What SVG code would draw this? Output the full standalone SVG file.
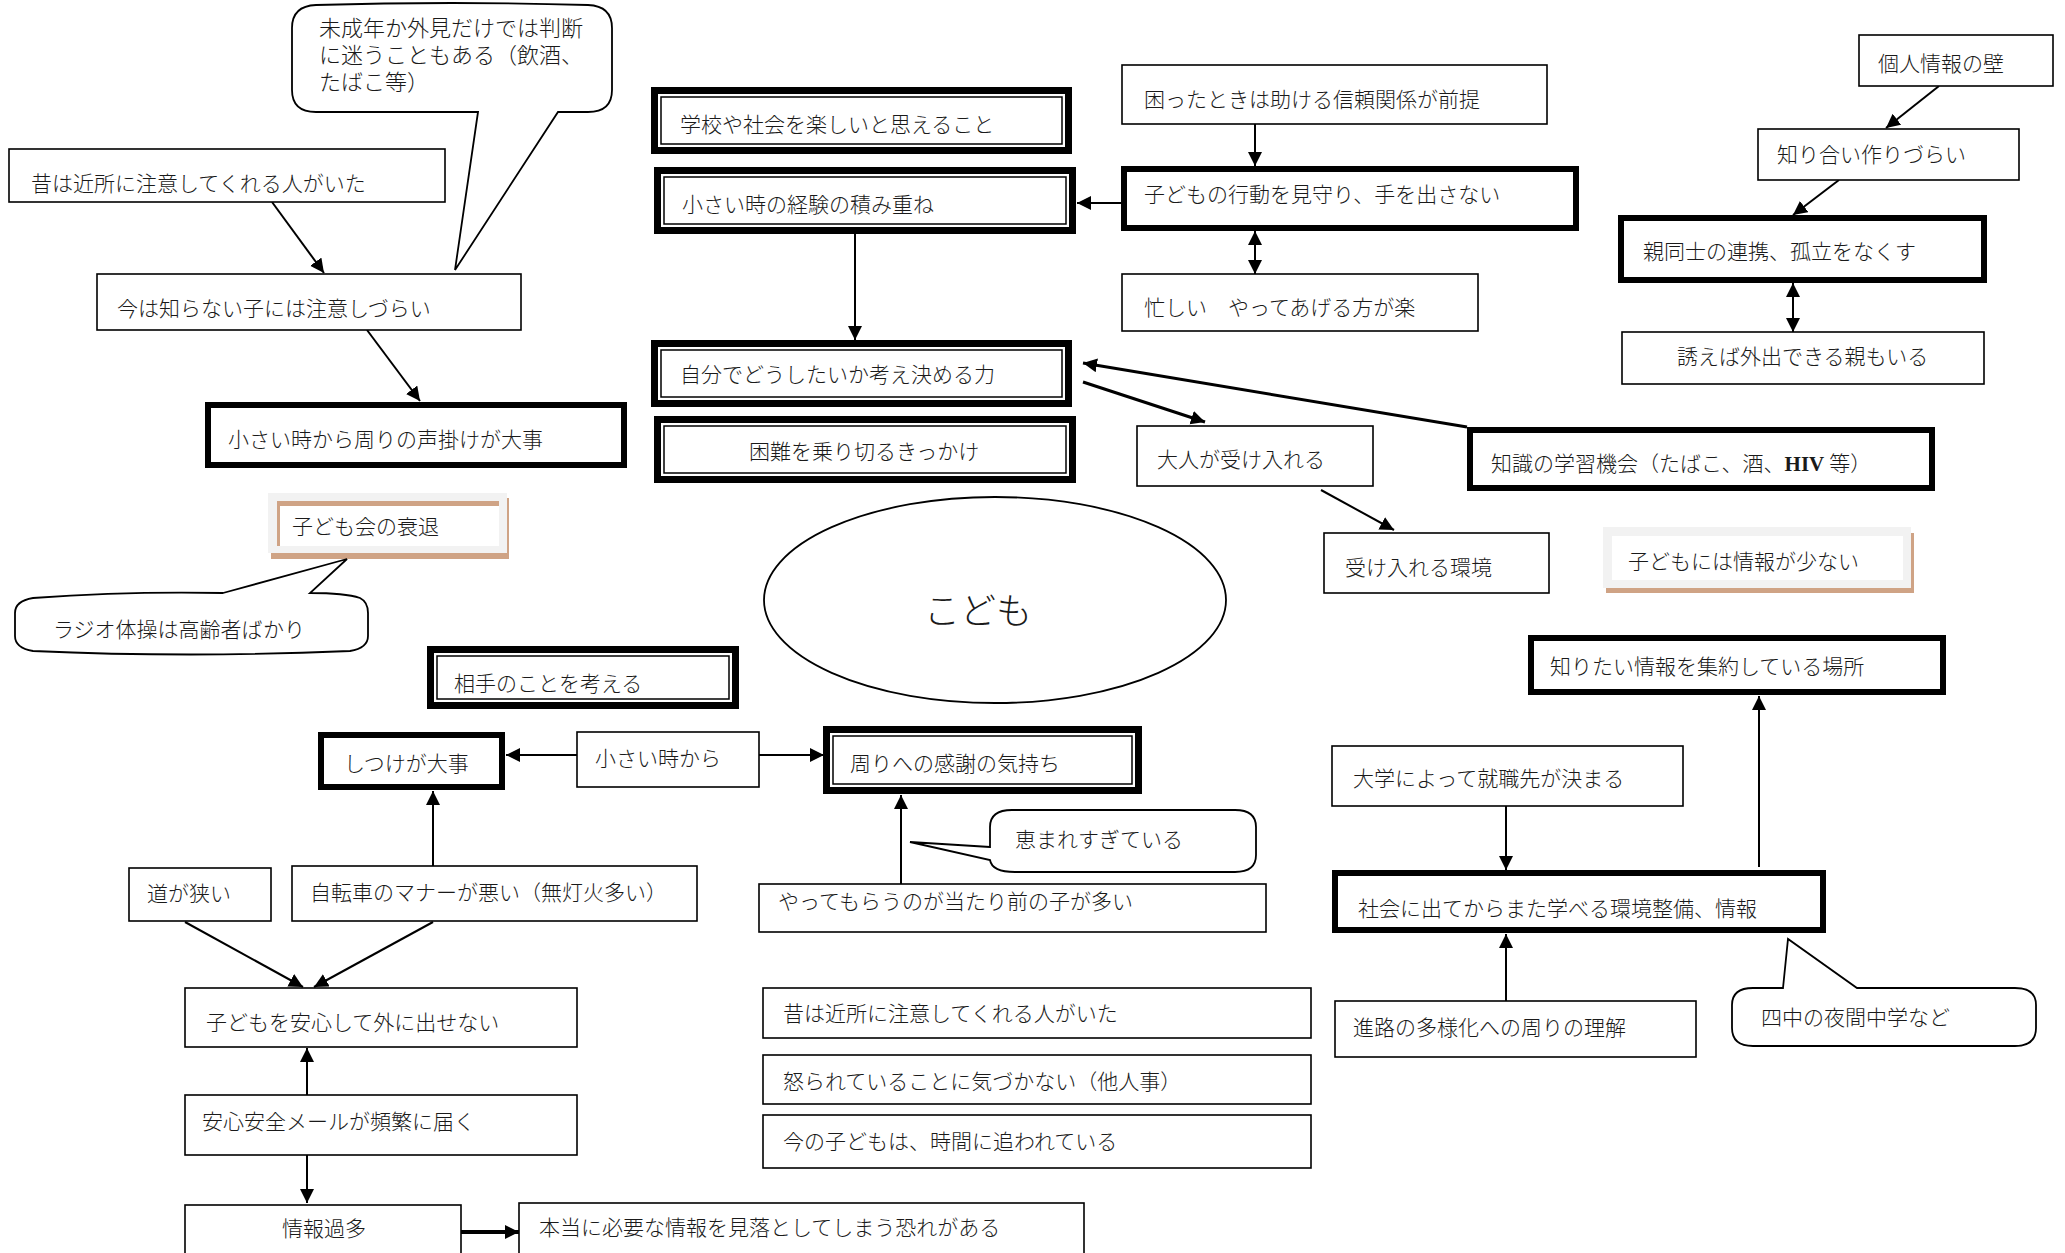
<svg xmlns="http://www.w3.org/2000/svg" width="2065" height="1253" viewBox="0 0 2065 1253">
  <style>
    .box{fill:#fff;stroke:#000;stroke-width:1.6}
    .thick{fill:#fff;stroke:#000;stroke-width:6}
    .dbo{fill:#fff;stroke:#000;stroke-width:7}
    .dbi{fill:none;stroke:#000;stroke-width:1.5}
    .bubble{fill:#fff;stroke:#000;stroke-width:1.8;stroke-linejoin:miter}
    .t{font-family:"Liberation Serif","Noto Sans CJK JP",sans-serif;font-size:21px;font-weight:300;fill:#1a1a1a}
    .big{font-size:36px}
    .c{stroke:#000;stroke-width:2;fill:none;marker-end:url(#ah)}
    .c3{stroke-width:3}
    .c4{stroke-width:4}
    .both{marker-start:url(#ah)}
    .tan{fill:#cfa385}
    .gray{fill:#f2f2f2}
  </style>
  <defs>
    <marker id="ah" markerUnits="userSpaceOnUse" markerWidth="16" markerHeight="16" refX="14" refY="7" orient="auto-start-reverse">
      <path d="M0,0 L14,7 L0,14 z" fill="#000"/>
    </marker>
  </defs>
  <rect width="2065" height="1253" fill="#fff"/>

  <!-- connectors -->
  <g id="connectors">
    <line class="c" x1="272" y1="202" x2="324" y2="273"/>
    <line class="c" x1="367" y1="330" x2="420" y2="401"/>
    <line class="c" x1="577" y1="755" x2="506" y2="755"/>
    <line class="c" x1="759" y1="755" x2="824" y2="755"/>
    <line class="c" x1="433" y1="866" x2="433" y2="791"/>
    <line class="c" x1="185" y1="922" x2="303" y2="987"/>
    <line class="c" x1="433" y1="922" x2="314" y2="987"/>
    <line class="c" x1="307" y1="1095" x2="307" y2="1048"/>
    <line class="c" x1="307" y1="1155" x2="307" y2="1203"/>
    <line class="c c4" x1="461" y1="1232" x2="519" y2="1232"/>
    <line class="c" x1="901" y1="884" x2="901" y2="795"/>
    <line class="c" x1="855" y1="234" x2="855" y2="340"/>
    <line class="c" x1="1255" y1="124" x2="1255" y2="166"/>
    <line class="c" x1="1121" y1="203" x2="1077" y2="203"/>
    <line class="c both" x1="1255" y1="231" x2="1255" y2="274"/>
    <line class="c c3" x1="1083" y1="382" x2="1205" y2="422"/>
    <line class="c c3" x1="1467" y1="427" x2="1083" y2="363"/>
    <line class="c" x1="1321" y1="490" x2="1394" y2="530"/>
    <line class="c" x1="1939" y1="86" x2="1886" y2="128"/>
    <line class="c" x1="1839" y1="180" x2="1793" y2="215"/>
    <line class="c both" x1="1793" y1="283" x2="1793" y2="332"/>
    <line class="c" x1="1506" y1="806" x2="1506" y2="870"/>
    <line class="c" x1="1506" y1="1001" x2="1506" y2="934"/>
    <line class="c" x1="1759" y1="867" x2="1759" y2="696"/>
  </g>

  <!-- left column -->
  <g id="n-minor-callout">
    <path class="bubble" d="M478,112 L455,270 L558,112 L588,112 Q612,112 612,90 L612,28 Q612,6 588,5 Q452,1 316,5 Q292,6 292,28 L292,90 Q292,112 316,112 Z"/>
    <text class="t" x="319" y="36" style="font-size:22px">未成年か外見だけでは判断</text>
    <text class="t" x="319" y="63" style="font-size:22px">に迷うこともある（飲酒、</text>
    <text class="t" x="319" y="90" style="font-size:22px">たばこ等）</text>
  </g>
  <g id="n-mukashi-1">
    <rect class="box" x="9" y="149" width="436" height="53"/>
    <text class="t" x="31" y="191">昔は近所に注意してくれる人がいた</text>
  </g>
  <g id="n-ima">
    <rect class="box" x="97" y="274" width="424" height="56"/>
    <text class="t" x="117" y="316">今は知らない子には注意しづらい</text>
  </g>
  <g id="n-koekake">
    <rect class="thick" x="208" y="405" width="416" height="60"/>
    <text class="t" x="228" y="447">小さい時から周りの声掛けが大事</text>
  </g>
  <g id="n-kodomokai">
    <rect class="tan" x="271" y="498" width="238" height="61"/>
    <rect class="gray" x="268" y="493" width="239" height="60"/>
    <rect class="tan" x="277" y="501" width="222" height="45"/>
    <rect fill="#fff" x="280" y="506" width="219" height="40"/>
    <text class="t" x="292" y="534">子ども会の衰退</text>
  </g>
  <g id="n-radio-callout">
    <path class="bubble" d="M223,593 L347,559 L310,593 Q345,593 360,598 Q368,602 368,613 L368,636 Q368,648 350,651 Q190,658 33,651 Q15,648 15,636 L15,613 Q15,601 33,598 Q130,591 223,593 Z"/>
    <text class="t" x="53" y="637">ラジオ体操は高齢者ばかり</text>
  </g>
  <g id="n-aite">
    <rect class="dbo" x="430.5" y="649.5" width="305" height="56"/>
    <rect class="dbi" x="437" y="656" width="292" height="43"/>
    <text class="t" x="454" y="691">相手のことを考える</text>
  </g>
  <g id="n-shitsuke">
    <rect class="thick" x="321" y="735" width="181" height="52"/>
    <text class="t" x="344" y="771">しつけが大事</text>
  </g>
  <g id="n-chiisai-kara">
    <rect class="box" x="577" y="732" width="182" height="55"/>
    <text class="t" x="595" y="766">小さい時から</text>
  </g>
  <g id="n-michi">
    <rect class="box" x="129" y="868" width="142" height="53"/>
    <text class="t" x="147" y="901">道が狭い</text>
  </g>
  <g id="n-jitensha">
    <rect class="box" x="292" y="866" width="405" height="55"/>
    <text class="t" x="310" y="900">自転車のマナーが悪い（無灯火多い）</text>
  </g>
  <g id="n-anshin-soto">
    <rect class="box" x="185" y="988" width="392" height="59"/>
    <text class="t" x="206" y="1030">子どもを安心して外に出せない</text>
  </g>
  <g id="n-mail">
    <rect class="box" x="185" y="1095" width="392" height="60"/>
    <text class="t" x="202" y="1129">安心安全メールが頻繁に届く</text>
  </g>
  <g id="n-kata">
    <rect class="box" x="185" y="1205" width="276" height="55"/>
    <text class="t" x="282" y="1236">情報過多</text>
  </g>
  <g id="n-miotoshi">
    <rect class="box" x="519" y="1203" width="565" height="57"/>
    <text class="t" x="539" y="1235">本当に必要な情報を見落としてしまう恐れがある</text>
  </g>

  <!-- centre column -->
  <g id="n-gakko">
    <rect class="dbo" x="654.5" y="90.5" width="414" height="60"/>
    <rect class="dbi" x="661" y="97" width="401" height="47"/>
    <text class="t" x="680" y="132">学校や社会を楽しいと思えること</text>
  </g>
  <g id="n-keiken">
    <rect class="dbo" x="657.5" y="170.5" width="415" height="60"/>
    <rect class="dbi" x="664" y="177" width="402" height="47"/>
    <text class="t" x="682" y="212">小さい時の経験の積み重ね</text>
  </g>
  <g id="n-jibun">
    <rect class="dbo" x="654.5" y="343.5" width="414" height="60"/>
    <rect class="dbi" x="661" y="350" width="401" height="47"/>
    <text class="t" x="680" y="382">自分でどうしたいか考え決める力</text>
  </g>
  <g id="n-konnan">
    <rect class="dbo" x="657.5" y="419.5" width="415" height="60"/>
    <rect class="dbi" x="664" y="426" width="402" height="47"/>
    <text class="t" x="749" y="459">困難を乗り切るきっかけ</text>
  </g>
  <g id="n-kodomo">
    <ellipse cx="995" cy="600" rx="231" ry="103" fill="#fff" stroke="#000" stroke-width="1.8"/>
    <text class="t big" x="978" y="624" text-anchor="middle">こども</text>
  </g>
  <g id="n-kansha">
    <rect class="dbo" x="826.5" y="729.5" width="312" height="61"/>
    <rect class="dbi" x="833" y="736" width="299" height="48"/>
    <text class="t" x="850" y="771">周りへの感謝の気持ち</text>
  </g>
  <g id="n-megumare-callout">
    <path class="bubble" d="M990,847 L910,842 L990,860 Q992,872 1015,872 L1235,872 Q1256,872 1256,855 L1256,827 Q1256,810 1235,810 L1012,810 Q990,810 990,827 Z"/>
    <text class="t" x="1015" y="847">恵まれすぎている</text>
  </g>
  <g id="n-yattemorau">
    <rect class="box" x="759" y="884" width="507" height="48"/>
    <text class="t" x="778" y="909">やってもらうのが当たり前の子が多い</text>
  </g>
  <g id="n-mukashi-2">
    <rect class="box" x="763" y="988" width="548" height="50"/>
    <text class="t" x="783" y="1021">昔は近所に注意してくれる人がいた</text>
  </g>
  <g id="n-okorare">
    <rect class="box" x="763" y="1055" width="548" height="49"/>
    <text class="t" x="783" y="1089">怒られていることに気づかない（他人事）</text>
  </g>
  <g id="n-jikan">
    <rect class="box" x="763" y="1115" width="548" height="53"/>
    <text class="t" x="783" y="1149">今の子どもは、時間に追われている</text>
  </g>

  <!-- upper right -->
  <g id="n-komatta">
    <rect class="box" x="1122" y="65" width="425" height="59"/>
    <text class="t" x="1144" y="107">困ったときは助ける信頼関係が前提</text>
  </g>
  <g id="n-mimamori">
    <rect class="thick" x="1124" y="169" width="452" height="59"/>
    <text class="t" x="1144" y="202">子どもの行動を見守り、手を出さない</text>
  </g>
  <g id="n-isogashii">
    <rect class="box" x="1122" y="274" width="356" height="57"/>
    <text class="t" x="1144" y="315">忙しい　やってあげる方が楽</text>
  </g>
  <g id="n-otona">
    <rect class="box" x="1137" y="426" width="236" height="60"/>
    <text class="t" x="1157" y="467">大人が受け入れる</text>
  </g>
  <g id="n-ukeire">
    <rect class="box" x="1324" y="533" width="225" height="60"/>
    <text class="t" x="1345" y="575">受け入れる環境</text>
  </g>
  <g id="n-chishiki">
    <rect class="thick" x="1470" y="430" width="462" height="58"/>
    <text class="t" x="1491" y="471">知識の学習機会（たばこ、酒、<tspan font-weight="bold" font-family="Liberation Serif">HIV </tspan>等）</text>
  </g>
  <g id="n-info-few">
    <rect class="tan" x="1606" y="533" width="308" height="60"/>
    <rect class="gray" x="1603" y="527" width="308" height="61"/>
    <rect fill="#fff" x="1612" y="536" width="291" height="44"/>
    <text class="t" x="1628" y="569">子どもには情報が少ない</text>
  </g>
  <g id="n-kojin">
    <rect class="box" x="1859" y="35" width="194" height="51"/>
    <text class="t" x="1878" y="71">個人情報の壁</text>
  </g>
  <g id="n-shiriai">
    <rect class="box" x="1758" y="129" width="261" height="51"/>
    <text class="t" x="1777" y="162">知り合い作りづらい</text>
  </g>
  <g id="n-oya">
    <rect class="thick" x="1621" y="218" width="363" height="62"/>
    <text class="t" x="1643" y="259">親同士の連携、孤立をなくす</text>
  </g>
  <g id="n-sasoeba">
    <rect class="box" x="1622" y="332" width="362" height="52"/>
    <text class="t" x="1677" y="364">誘えば外出できる親もいる</text>
  </g>

  <!-- lower right -->
  <g id="n-shiritai">
    <rect class="thick" x="1531" y="638" width="412" height="54"/>
    <text class="t" x="1550" y="674">知りたい情報を集約している場所</text>
  </g>
  <g id="n-daigaku">
    <rect class="box" x="1332" y="746" width="351" height="60"/>
    <text class="t" x="1353" y="786">大学によって就職先が決まる</text>
  </g>
  <g id="n-shakai">
    <rect class="thick" x="1335" y="873" width="488" height="57"/>
    <text class="t" x="1358" y="916">社会に出てからまた学べる環境整備、情報</text>
  </g>
  <g id="n-shinro">
    <rect class="box" x="1335" y="1001" width="361" height="56"/>
    <text class="t" x="1353" y="1035">進路の多様化への周りの理解</text>
  </g>
  <g id="n-yonchu-callout">
    <path class="bubble" d="M1783,988 L1788,939 L1857,988 L2015,988 Q2036,988 2036,1005 L2036,1028 Q2036,1046 2015,1046 L1753,1046 Q1732,1046 1732,1028 L1732,1005 Q1732,988 1753,988 Z"/>
    <text class="t" x="1761" y="1025">四中の夜間中学など</text>
  </g>
</svg>
